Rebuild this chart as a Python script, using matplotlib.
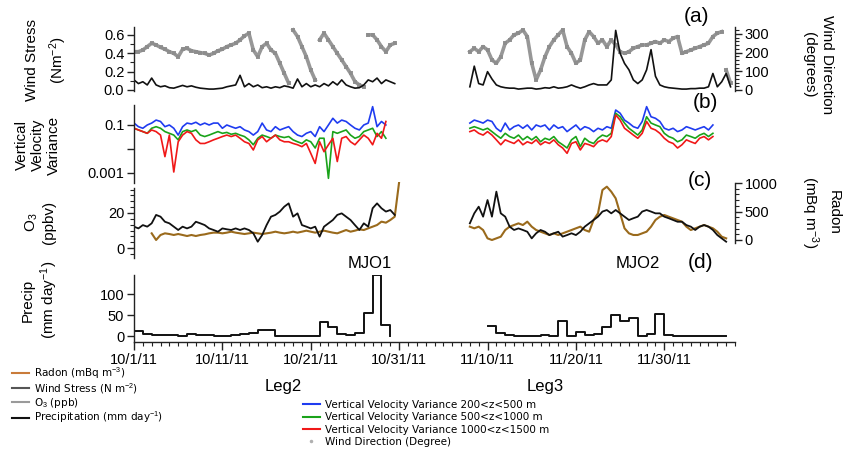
import numpy as np
import matplotlib
matplotlib.use('Agg')
import matplotlib.pyplot as plt
import matplotlib.dates as mdates
from matplotlib.lines import Line2D
from matplotlib.ticker import FixedLocator, NullLocator, FormatStrFormatter

plt.rcParams['font.family'] = ['Liberation Sans', 'DejaVu Sans']
plt.rcParams['mathtext.fontset'] = 'custom'
plt.rcParams['mathtext.rm'] = 'Liberation Sans'
plt.rcParams['mathtext.it'] = 'Liberation Sans:italic'

# ---------------- data (days since 10/1/11, half-day samples) ----------------
start = mdates.datestr2num('2011-10-01')

# (a) wind stress (N m-2) and wind direction (deg)
ws_leg2 = [0.11, 0.07, 0.09, 0.055, 0.13, 0.055, 0.035, 0.045, 0.025, 0.02,
           0.035, 0.05, 0.035, 0.045, 0.03, 0.02, 0.015, 0.01, 0.01, 0.015,
           0.02, 0.035, 0.045, 0.055, 0.16, 0.035, 0.07, 0.035, 0.055, 0.025,
           0.035, 0.02, 0.035, 0.025, 0.045, 0.035, 0.02, 0.12, 0.035, 0.07,
           0.035, 0.055, 0.035, 0.07, 0.045, 0.09, 0.055, 0.11, 0.055, 0.035,
           0.02, 0.025, 0.055, 0.11, 0.09, 0.13, 0.07, 0.11, 0.09, 0.07]
ws_leg3 = [0.035, 0.26, 0.07, 0.055, 0.2, 0.12, 0.055, 0.035, 0.025, 0.02,
           0.02, 0.01, 0.015, 0.02, 0.02, 0.01, 0.015, 0.025, 0.02, 0.035,
           0.02, 0.025, 0.035, 0.055, 0.035, 0.02, 0.035, 0.055, 0.07, 0.055,
           0.055, 0.055, 0.11, 0.65, 0.4, 0.29, 0.22, 0.11, 0.07, 0.11,
           0.22, 0.44, 0.15, 0.055, 0.035, 0.025, 0.02, 0.015, 0.01, 0.01,
           0.015, 0.015, 0.02, 0.02, 0.035, 0.18, 0.035, 0.09, 0.18, 0.035]
wd_leg2 = [205, 205, 214, 232, 250, 241, 228, 218, 205, 196,
           178, 218, 223, 210, 205, 200, 196, 187, 196, 210,
           218, 232, 241, 250, 268, 289, 304, 214, 178, 232,
           250, 214, 196, 143, 89, 36, 321, 286, 232, 178,
           107, 54, 268, 304, 268, 232, 196, 161, 125, 89,
           45, 27, 18, 295, 295, 268, 232, 205, 241, 250]
wd_leg3 = [205, 223, 205, 232, 214, 161, 143, 178, 250, 268,
           295, 304, 321, 286, 143, 54, 107, 178, 232, 268,
           295, 321, 232, 196, 143, 161, 268, 312, 286, 250,
           268, 232, 268, 241, 205, 196, 205, 223, 232, 241,
           241, 250, 259, 250, 268, 259, 277, 286, 196, 205,
           214, 223, 232, 241, 250, 286, 304, 312, 107, 36]

# (b) vertical velocity variance
vv200_leg2 = [0.12, 0.085, 0.073, 0.10, 0.12, 0.16, 0.14, 0.085, 0.10, 0.073,
              0.038, 0.085, 0.12, 0.11, 0.13, 0.10, 0.12, 0.10, 0.12, 0.12,
              0.073, 0.10, 0.085, 0.073, 0.085, 0.062, 0.053, 0.038, 0.053, 0.12,
              0.062, 0.053, 0.085, 0.062, 0.073, 0.085, 0.053, 0.038, 0.033, 0.045,
              0.053, 0.033, 0.085, 0.053, 0.10, 0.19, 0.12, 0.16, 0.14, 0.10,
              0.073, 0.062, 0.10, 0.12, 0.58, 0.085, 0.14, 0.10]
vv500_leg2 = [0.073, 0.062, 0.053, 0.045, 0.073, 0.085, 0.073, 0.053, 0.045, 0.038,
              0.024, 0.053, 0.062, 0.053, 0.062, 0.038, 0.033, 0.038, 0.045, 0.053,
              0.045, 0.049, 0.041, 0.045, 0.038, 0.033, 0.024, 0.015, 0.028, 0.038,
              0.033, 0.028, 0.038, 0.033, 0.030, 0.033, 0.024, 0.020, 0.017, 0.024,
              0.020, 0.011, 0.028, 0.028, 0.0006, 0.053, 0.045, 0.053, 0.062, 0.038,
              0.028, 0.033, 0.053, 0.062, 0.073, 0.033, 0.053, 0.028]
vv1000_leg2 = [0.073, 0.062, 0.053, 0.045, 0.062, 0.053, 0.038, 0.0048, 0.038, 0.0011,
               0.020, 0.038, 0.053, 0.045, 0.024, 0.017, 0.017, 0.020, 0.024, 0.028,
               0.033, 0.038, 0.033, 0.038, 0.028, 0.020, 0.017, 0.0091, 0.024, 0.033,
               0.020, 0.028, 0.038, 0.024, 0.020, 0.020, 0.017, 0.015, 0.0125, 0.017,
               0.0066, 0.0025, 0.020, 0.0077, 0.015, 0.028, 0.0030, 0.028, 0.033, 0.020,
               0.015, 0.024, 0.038, 0.028, 0.015, 0.045, 0.028, 0.14]
vv200_leg3 = [0.12, 0.16, 0.14, 0.12, 0.16, 0.14, 0.073, 0.053, 0.12, 0.062,
              0.085, 0.10, 0.073, 0.10, 0.062, 0.10, 0.085, 0.10, 0.062, 0.10,
              0.073, 0.085, 0.053, 0.073, 0.10, 0.062, 0.085, 0.073, 0.053, 0.073,
              0.062, 0.085, 0.073, 0.42, 0.31, 0.16, 0.12, 0.085, 0.073, 0.14,
              0.58, 0.22, 0.19, 0.14, 0.073, 0.062, 0.073, 0.053, 0.062, 0.085,
              0.073, 0.062, 0.073, 0.085, 0.062, 0.10]
vv500_leg3 = [0.073, 0.085, 0.073, 0.062, 0.073, 0.053, 0.038, 0.028, 0.045, 0.033,
              0.028, 0.038, 0.024, 0.033, 0.024, 0.033, 0.020, 0.028, 0.024, 0.033,
              0.020, 0.015, 0.011, 0.024, 0.033, 0.0125, 0.028, 0.020, 0.017, 0.028,
              0.038, 0.033, 0.045, 0.31, 0.22, 0.12, 0.073, 0.053, 0.038, 0.062,
              0.22, 0.12, 0.10, 0.085, 0.045, 0.033, 0.028, 0.020, 0.024, 0.038,
              0.033, 0.028, 0.038, 0.045, 0.033, 0.045]
vv1000_leg3 = [0.053, 0.062, 0.045, 0.038, 0.053, 0.038, 0.024, 0.015, 0.024, 0.020,
               0.017, 0.024, 0.015, 0.020, 0.017, 0.024, 0.015, 0.020, 0.017, 0.024,
               0.015, 0.011, 0.0066, 0.017, 0.020, 0.0091, 0.017, 0.015, 0.0125, 0.020,
               0.024, 0.020, 0.033, 0.26, 0.16, 0.073, 0.053, 0.038, 0.028, 0.045,
               0.14, 0.073, 0.062, 0.045, 0.028, 0.020, 0.017, 0.011, 0.015, 0.024,
               0.020, 0.017, 0.028, 0.033, 0.024, 0.033]

# (c) ozone (ppbv) and radon (mBq m-3)
o3_leg2 = [12.2, 11.2, 13.1, 12.2, 14.1, 18.9, 17.9, 15.0, 14.1, 12.2,
           10.3, 12.2, 11.2, 12.2, 15.0, 14.1, 13.1, 11.2, 10.3, 9.3,
           11.2, 10.7, 10.3, 11.2, 10.3, 11.2, 10.3, 8.4, 3.6, 7.4,
           13.1, 17.9, 18.9, 20.8, 23.6, 25.5, 17.9, 19.8, 13.1, 12.2,
           11.2, 12.2, 6.5, 12.2, 14.1, 16.0, 18.9, 19.8, 17.9, 16.0,
           13.1, 10.3, 14.1, 12.2, 22.7, 25.5, 22.7, 20.8, 21.7, 18.9]
o3_leg3 = [14.1, 19.8, 23.6, 17.9, 27.4, 17.9, 32.2, 19.8, 17.9, 12.2,
           10.3, 11.2, 10.3, 9.3, 5.5, 8.4, 10.3, 9.3, 7.4, 8.4,
           9.3, 6.5, 7.4, 8.4, 7.4, 9.3, 12.2, 14.1, 16.0, 17.9,
           20.8, 21.7, 19.8, 21.7, 19.8, 17.9, 16.0, 17.0, 17.9, 20.8,
           21.7, 20.8, 19.8, 19.8, 17.9, 17.0, 16.0, 15.0, 15.0, 13.1,
           12.2, 10.3, 12.2, 13.1, 12.2, 10.3, 7.4, 5.5, 3.6]
radon_leg2 = [117, 0, 88, 117, 105, 88, 105, 88, 70, 88,
              70, 88, 99, 117, 129, 129, 117, 129, 146, 129,
              117, 105, 117, 129, 117, 105, 117, 129, 146, 129,
              117, 129, 146, 129, 146, 164, 146, 129, 146, 164,
              146, 129, 117, 146, 175, 146, 164, 187, 175, 205,
              234, 263, 322, 304, 351, 409, 1020]
radon_leg3 = [234, 205, 234, 175, 29, 0, 29, 58, 175, 234,
              263, 292, 263, 322, 234, 175, 146, 117, 88, 117,
              88, 117, 146, 175, 205, 234, 175, 146, 351, 468,
              877, 936, 848, 731, 468, 205, 117, 88, 88, 117,
              146, 234, 351, 409, 439, 409, 380, 351, 322, 234,
              175, 205, 234, 263, 234, 205, 146, 58, 29]

# (d) daily precipitation (mm day-1)
precip_leg2 = [12, 6, 3, 2, 2, 1, 5, 2, 2, 1, 1, 2, 5, 7, 14, 14, 1, 1, 1, 1,
               1, 33, 22, 5, 3, 7, 56, 145, 26, 0]
precip_leg3 = [25, 8, 2, 1, 1, 1, 3, 1, 36, 1, 10, 3, 5, 22, 50, 37, 43, 1, 5, 52,
               2, 1, 1, 1, 1, 1, 1, 1]

tick_dates = ['2011-10-01', '2011-10-11', '2011-10-21', '2011-10-31',
              '2011-11-10', '2011-11-20', '2011-11-30']
tick_labels = ['10/1/11', '10/11/11', '10/21/11', '10/31/11',
               '11/10/11', '11/20/11', '11/30/11']


def half_days(first_day, values):
    return start + first_day + 0.5 * np.arange(len(values))


def whole_days(first_day, values):
    return start + first_day + np.arange(len(values))


def break_wraps(t, v):
    # no line across a 360 degree wrap of the wind direction
    v = np.asarray(v, float)
    idx = np.where(np.abs(np.diff(v)) > 150)[0] + 1
    return np.insert(t, idx, np.nan), np.insert(v, idx, np.nan)


# ---------------- figure ----------------
W, H = 847, 457
fig = plt.figure(figsize=(W / 100, H / 100), dpi=100)


def box(top, bottom, left=134, right=735):
    return [left / W, 1 - bottom / H, (right - left) / W, (bottom - top) / H]


def style(ax, side='left'):
    for s in ['top', 'right', 'bottom', 'left']:
        ax.spines[s].set_visible(False)
    ax.spines[side].set_visible(True)
    ax.spines[side].set_linewidth(1.0)
    ax.spines[side].set_color('#222222')
    ax.tick_params(axis='y', which='major', direction='out', length=5, width=1,
                   labelsize=10.5, pad=2, color='#222222')
    ax.tick_params(axis='y', which='minor', direction='out', length=3, width=0.8,
                   color='#222222')
    ax.tick_params(axis='x', which='both', bottom=False, labelbottom=False)
    ax.patch.set_visible(False)


xlim = (start, start + 68)
black = '#111111'
gray = '#8c8c8c'
brown = '#9a6a1c'

# (a) wind stress / wind direction
ax_a = fig.add_axes(box(27, 91))
ax_a2 = ax_a.twinx()
for first, wd in [(0, wd_leg2), (38, wd_leg3)]:
    tx, wx = break_wraps(half_days(first, wd), wd)
    ax_a2.plot(tx, wx, color=gray, lw=2.6, marker='s', ms=3.2, mew=0, alpha=0.9)
ax_a.plot(half_days(0, ws_leg2), ws_leg2, color=black, lw=1.2)
ax_a.plot(half_days(38, ws_leg3), ws_leg3, color=black, lw=1.2)
ax_a.set_zorder(ax_a2.get_zorder() + 1)
style(ax_a)
style(ax_a2, 'right')
ax_a.set_xlim(xlim)
ax_a.set_ylim(-0.011, 0.687)
ax_a.yaxis.set_major_locator(FixedLocator([0.0, 0.2, 0.4, 0.6]))
ax_a.yaxis.set_minor_locator(FixedLocator([0.1, 0.3, 0.5]))
ax_a.yaxis.set_major_formatter(FormatStrFormatter('%.1f'))
ax_a2.set_ylim(-5.4, 337)
ax_a2.yaxis.set_major_locator(FixedLocator([0, 100, 200, 300]))
ax_a2.yaxis.set_minor_locator(FixedLocator(list(range(20, 340, 20))))

# (b) vertical velocity variance
ax_b = fig.add_axes(box(105, 183))
ax_b.plot(half_days(0, vv200_leg2), vv200_leg2, color='#1f3cf0', lw=1.2)
ax_b.plot(half_days(0, vv500_leg2), vv500_leg2, color='#1aa31a', lw=1.2)
ax_b.plot(half_days(0, vv1000_leg2), vv1000_leg2, color='#f01818', lw=1.2)
ax_b.plot(half_days(38, vv200_leg3), vv200_leg3, color='#1f3cf0', lw=1.2)
ax_b.plot(half_days(38, vv500_leg3), vv500_leg3, color='#1aa31a', lw=1.2)
ax_b.plot(half_days(38, vv1000_leg3), vv1000_leg3, color='#f01818', lw=1.2)
ax_b.set_yscale('log')
style(ax_b)
ax_b.set_xlim(xlim)
ax_b.set_ylim(3.83e-4, 0.68)
ax_b.yaxis.set_major_locator(FixedLocator([0.001, 0.01, 0.1]))
ax_b.yaxis.set_minor_locator(NullLocator())
ax_b.set_yticklabels(['0.001', '', '0.1'])

# (c) ozone / radon
ax_c = fig.add_axes(box(182, 258))
ax_c2 = ax_c.twinx()
ax_c2.plot(half_days(2, radon_leg2), radon_leg2, color=brown, lw=1.5)
ax_c2.plot(half_days(38, radon_leg3), radon_leg3, color=brown, lw=1.5)
ax_c.plot(half_days(0, o3_leg2), o3_leg2, color=black, lw=1.3)
ax_c.plot(half_days(38, o3_leg3), o3_leg3, color=black, lw=1.3)
ax_c.set_zorder(ax_c2.get_zorder() + 1)
style(ax_c)
style(ax_c2, 'right')
ax_c.set_xlim(xlim)
ax_c.set_ylim(-5.7, 37.7)
ax_c.spines['left'].set_bounds(-5.7, 34.5)
ax_c.yaxis.set_major_locator(FixedLocator([0, 20]))
ax_c.yaxis.set_minor_locator(FixedLocator([-10 / 3, 10 / 3, 20 / 3, 10, 40 / 3, 50 / 3,
                                           70 / 3, 80 / 3, 30, 100 / 3]))
ax_c2.set_ylim(-316, 1018)
ax_c2.spines['right'].set_bounds(-60, 1000)
ax_c2.yaxis.set_major_locator(FixedLocator([0, 500, 1000]))
ax_c2.yaxis.set_minor_locator(FixedLocator([100, 200, 300, 400, 600, 700, 800, 900]))

# (d) precipitation
ax_d = fig.add_axes(box(275, 342))
ax_d.step(whole_days(0, precip_leg2), precip_leg2, where='post', color=black, lw=1.4)
ax_d.step(whole_days(40, precip_leg3), precip_leg3, where='post', color=black, lw=1.4)
style(ax_d)
ax_d.spines['bottom'].set_visible(True)
ax_d.spines['bottom'].set_color('#222222')
ax_d.spines['bottom'].set_linewidth(1.0)
ax_d.set_xlim(xlim)
ax_d.set_ylim(-14.3, 146)
ax_d.yaxis.set_major_locator(FixedLocator([0, 50, 100]))
ax_d.xaxis.set_major_locator(FixedLocator(mdates.datestr2num(tick_dates)))
ax_d.set_xticklabels(tick_labels)
ax_d.xaxis.set_minor_locator(mdates.DayLocator())
ax_d.tick_params(axis='x', which='major', bottom=True, labelbottom=True, direction='out',
                 length=6, width=1, labelsize=10.5, pad=2, color='#222222')
ax_d.tick_params(axis='x', which='minor', bottom=True, direction='out', length=3,
                 width=0.8, color='#222222')


# ---------------- text ----------------
def ftext(x, y, s, **kw):
    fig.text(x / W, 1 - y / H, s, ha='center', va='center', **kw)


ftext(47, 60, 'Wind Stress\n(Nm$^{-2}$)', rotation=90, fontsize=11, linespacing=1.5)
ftext(38, 145, 'Vertical\nVelocity\nVariance', rotation=90, fontsize=11, linespacing=1.15)
ftext(40, 222, 'O$_3$\n(ppbv)', rotation=90, fontsize=11, linespacing=1.2)
ftext(40, 300, 'Precip\n(mm day$^{-1}$)', rotation=90, fontsize=11, linespacing=1.25)
ftext(818, 65, 'Wind Direction\n(degrees)', rotation=-90, fontsize=11, linespacing=1.3)
ftext(820, 212, 'Radon\n(mBq m$^{-3}$)', rotation=-90, fontsize=11, linespacing=1.35)

ftext(696, 17, '(a)', fontsize=15)
ftext(705, 103, '(b)', fontsize=15)
ftext(700, 180, '(c)', fontsize=15)
ftext(700, 262, '(d)', fontsize=15)
ftext(370, 263, 'MJO1', fontsize=12)
ftext(638, 263, 'MJO2', fontsize=12)
ftext(283, 387, 'Leg2', fontsize=12)
ftext(545, 387, 'Leg3', fontsize=12)

# ---------------- legends ----------------
leg_font = {'family': ['Liberation Sans Narrow', 'DejaVu Sans'], 'size': 7.5}
left_handles = [Line2D([], [], color='#c97b3a', lw=1.5),
                Line2D([], [], color='#555555', lw=1.5),
                Line2D([], [], color='#9a9a9a', lw=1.5),
                Line2D([], [], color=black, lw=1.5)]
left_labels = ['Radon (mBq m$^{-3}$)', 'Wind Stress (N m$^{-2}$)', 'O$_3$ (ppb)',
               'Precipitation (mm day$^{-1}$)']
fig.legend(left_handles, left_labels, loc='upper left',
           bbox_to_anchor=(12 / W, 1 - 365 / H), frameon=False, prop=leg_font,
           handlelength=1.6, handletextpad=0.5, labelspacing=0.0,
           borderpad=0, borderaxespad=0)

right_handles = [Line2D([], [], color='#1f3cf0', lw=1.5),
                 Line2D([], [], color='#1aa31a', lw=1.5),
                 Line2D([], [], color='#f01818', lw=1.5),
                 Line2D([], [], color='#b0b0b0', lw=0, marker='.', ms=3)]
right_labels = ['Vertical Velocity Variance 200<z<500 m',
                'Vertical Velocity Variance 500<z<1000 m',
                'Vertical Velocity Variance 1000<z<1500 m',
                'Wind Direction (Degree)']
fig.legend(right_handles, right_labels, loc='upper left',
           bbox_to_anchor=(303 / W, 1 - 400 / H), frameon=False, prop=leg_font,
           handlelength=1.6, handletextpad=0.5, labelspacing=0.22,
           borderpad=0, borderaxespad=0)

fig.savefig('out.png', dpi=100)
